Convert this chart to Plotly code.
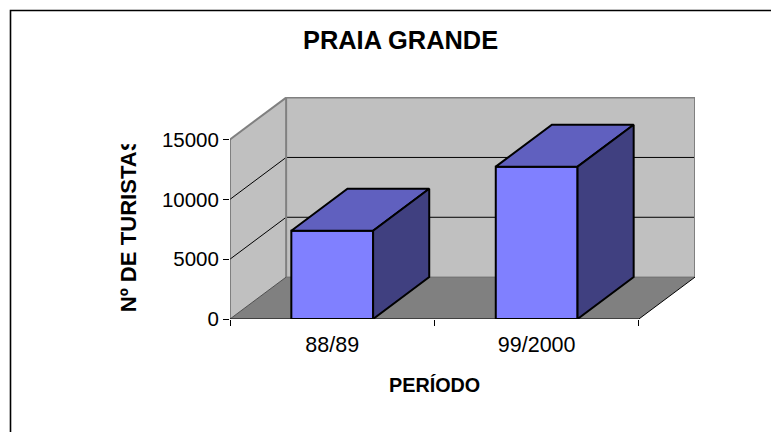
import plotly.graph_objects as go

# Data
categories = ["88/89", "99/2000"]
category_pos = [0.5, 1.5]
values = [7380, 12730]
y_ticks = [0, 5000, 10000, 15000]
y_tick_text = ["0", "5000", "10000", "15000"]
title = "PRAIA GRANDE"
x_title = "PERÍODO"
y_title = "Nº DE TURISTAS"

# 3D look: oblique depth offset in data units
DX, DY = 0.2745, 3500
BAR_W = 0.4
X_END = 2.0
Y_TOP = 15000
OFF = 8  # the page's body margin
W, H = 779 - OFF, 432 - OFF
L, R, T, B = 230 - OFF, 84, 97 - OFF, 113
FONT = "Liberation Sans, Arial, sans-serif"
FRONT, TOP_FACE, SIDE_FACE = "#8080FF", "#6060BF", "#404080"
WALL, FLOOR, EDGE = "#C0C0C0", "#808080", "#808080"


def path(points):
    return "M " + " L ".join(f"{x},{y}" for x, y in points) + " Z"


# page pixel -> paper fraction
px = lambda v: (v - OFF - L) / (W - L - R)
py = lambda v: 1 - (v - OFF - T) / (H - T - B)

shapes = [
    dict(type="path", layer="below", xref="x", yref="y", fillcolor=WALL, line=dict(width=0),
         path=path([(0, 0), (DX, DY), (DX, Y_TOP + DY), (0, Y_TOP)])),
    dict(type="path", layer="below", xref="x", yref="y", fillcolor=WALL, line=dict(width=0),
         path=path([(DX, DY), (X_END + DX, DY), (X_END + DX, Y_TOP + DY), (DX, Y_TOP + DY)])),
    dict(type="path", layer="below", xref="x", yref="y", fillcolor=FLOOR, line=dict(width=0),
         path=path([(0, 0), (X_END, 0), (X_END + DX, DY), (DX, DY)])),
]
# gridlines on side wall and back wall
for t in y_ticks[1:-1]:
    shapes.append(dict(type="line", layer="below", xref="x", yref="y", x0=0, y0=t, x1=DX, y1=t + DY,
                       line=dict(color="#000000", width=1)))
    shapes.append(dict(type="line", layer="below", xref="x", yref="y", x0=DX, y0=t + DY, x1=X_END + DX, y1=t + DY,
                       line=dict(color="#000000", width=1)))
# wall outlines
for a, b, c, w in [
    ((0, Y_TOP), (DX, Y_TOP + DY), EDGE, 2),
    ((DX, Y_TOP + DY), (X_END + DX, Y_TOP + DY), EDGE, 2),
    ((X_END + DX, Y_TOP + DY), (X_END + DX, DY), EDGE, 2),
    ((DX, DY), (DX, Y_TOP + DY), EDGE, 2),
    ((DX, DY), (X_END + DX, DY), "#707070", 1),
    ((0, 0), (DX, DY), "#505050", 1),
    ((X_END, 0), (X_END + DX, DY), "#000000", 1),
    ((0, 0), (0, Y_TOP), "#404040", 1),
    ((0, 0), (X_END, 0), "#000000", 1),
]:
    shapes.append(dict(type="line", layer="below", xref="x", yref="y", x0=a[0], y0=a[1], x1=b[0], y1=b[1],
                       line=dict(color=c, width=w)))
# chart-area border (left and top only, the rest falls outside the crop)
shapes.append(dict(type="path", xref="paper", yref="paper", layer="above",
                   path=f"M {px(10.5)},{py(440)} L {px(10.5)},{py(10.5)} L {px(790)},{py(10.5)}",
                   line=dict(color="#000000", width=1.6)))

fig = go.Figure()
fig.add_trace(go.Bar(x=category_pos, y=values, width=BAR_W, marker=dict(color=FRONT, line=dict(color="#000000", width=2)),
                     hoverinfo="skip", showlegend=False))

for c, v in zip(category_pos, values):
    x0, x1 = c - BAR_W / 2, c + BAR_W / 2
    top = [(x0, v), (x1, v), (x1 + DX, v + DY), (x0 + DX, v + DY), (x0, v)]
    side = [(x1, 0), (x1 + DX, DY), (x1 + DX, v + DY), (x1, v), (x1, 0)]
    for pts, col in ((top, TOP_FACE), (side, SIDE_FACE)):
        fig.add_trace(go.Scatter(x=[p[0] for p in pts], y=[p[1] for p in pts], mode="lines", fill="toself",
                                 fillcolor=col, line=dict(color="#000000", width=2), hoverinfo="skip",
                                 showlegend=False, cliponaxis=False))

fig.update_layout(
    width=W, height=H, autosize=False, margin=dict(l=L, r=R, t=T, b=B, pad=0),
    paper_bgcolor="#FFFFFF", plot_bgcolor="rgba(0,0,0,0)", shapes=shapes, showlegend=False,
    font=dict(family=FONT, color="#000000"),
    annotations=[
        dict(text=f"<b>{title}</b>", xref="paper", yref="paper", x=px(400.5), y=py(40), showarrow=False,
             xanchor="center", yanchor="middle", font=dict(size=25.4, family=FONT, color="#000000")),
        dict(text=f"<b>{x_title}</b>", xref="paper", yref="paper", x=px(434.5), y=py(385), showarrow=False,
             xanchor="center", yanchor="middle", font=dict(size=19.8, family=FONT, color="#000000")),
        dict(text=f"<b>{y_title}</b>", xref="paper", yref="paper", x=px(128.3), y=py(228), showarrow=False,
             textangle=-90, width=168, align="left", xanchor="center", yanchor="middle",
             font=dict(size=22.1, family=FONT, color="#000000")),
    ],
    xaxis=dict(range=[0, X_END + DX], tickvals=category_pos, ticktext=categories, ticks="", showgrid=False, zeroline=False,
               showline=False, tickfont=dict(size=21.5, family=FONT, color="#000000"), ticklabelstandoff=10,
               minor=dict(tickvals=[0, 1, 2], ticks="outside", ticklen=6, tickwidth=1, tickcolor="#000000", showgrid=False)),
    yaxis=dict(range=[0, (H - T - B) / 179.5 * 15000], tickvals=y_ticks, ticktext=y_tick_text, ticks="outside", ticklen=6, tickwidth=1, tickcolor="#000000",
               showgrid=False, zeroline=False, showline=False, tickfont=dict(size=20.5, family=FONT, color="#000000"),
               ticklabelstandoff=0),
)

fig.write_html("out.html")
